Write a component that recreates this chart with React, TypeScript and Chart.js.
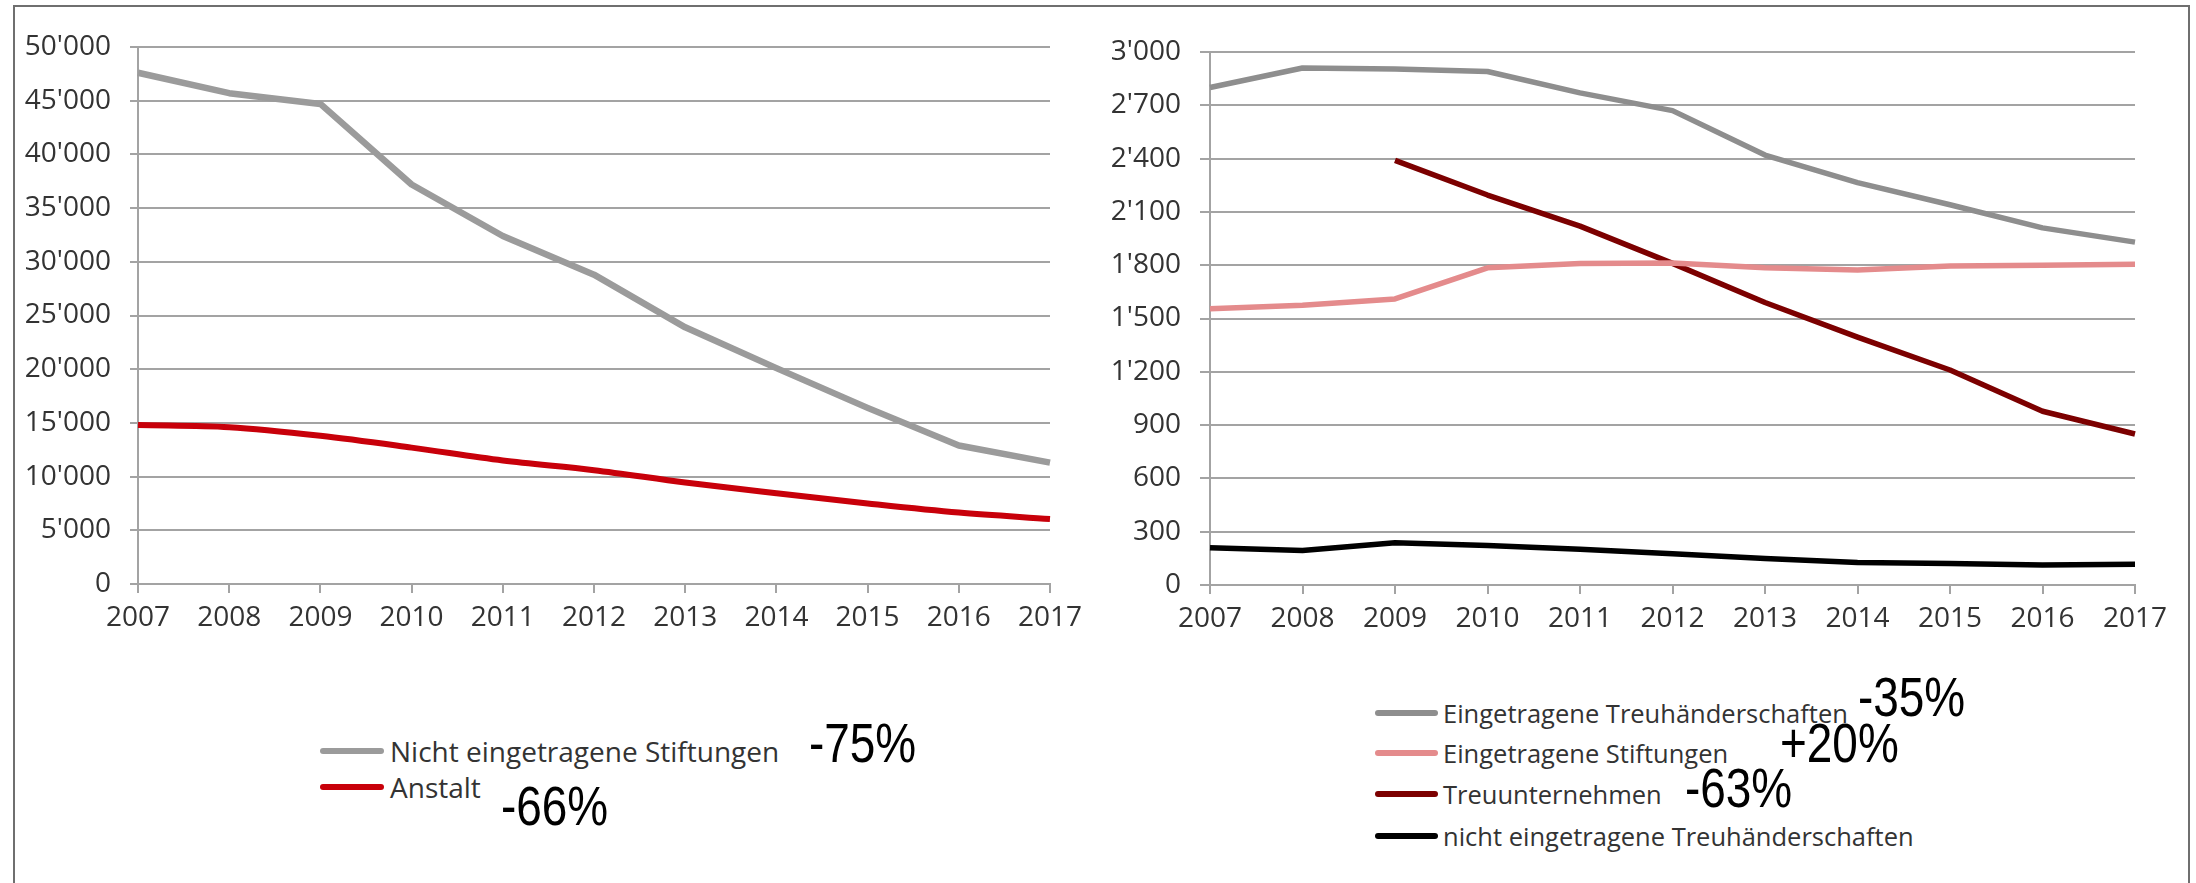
import React, { useEffect, useRef } from "react";
import { Chart, registerables } from "chart.js";

Chart.register(...registerables);

// ---------- data ----------
const years = ["2007", "2008", "2009", "2010", "2011", "2012", "2013", "2014", "2015", "2016", "2017"];

const nichtEingetrageneStiftungen = [47600, 45700, 44700, 37200, 32400, 28800, 23900, 20100, 16400, 12900, 11300];
const anstalt = [14800, 14600, 13800, 12700, 11500, 10600, 9450, 8450, 7500, 6650, 6050];

const eingetrageneTreuhaenderschaften = [2800, 2910, 2905, 2890, 2770, 2670, 2420, 2265, 2140, 2010, 1930];
const eingetrageneStiftungen = [1555, 1575, 1610, 1785, 1810, 1812, 1785, 1773, 1795, 1800, 1805];
const treuunternehmen = [null, null, 2390, 2195, 2020, 1810, 1590, 1395, 1210, 978, 850];
const nichtEingetrageneTreuhaenderschaften = [210, 194, 238, 222, 201, 176, 149, 126, 121, 112, 117];

const leftLabels = ["Nicht eingetragene Stiftungen", "Anstalt"];
const leftChanges = ["-75%", "-66%"];
const rightLabels = [
  "Eingetragene Treuhänderschaften",
  "Eingetragene Stiftungen",
  "Treuunternehmen",
  "nicht eingetragene Treuhänderschaften",
];
const rightChanges = ["-35%", "+20%", "-63%"];

const leftYMax = 50000;
const leftYStep = 5000;
const rightYMax = 3000;
const rightYStep = 300;

// ---------- styles ----------
const GRID = "#a3a3a3";
const TEXT = "#333333";
const FONT = "'Open Sans', 'Noto Sans', sans-serif";
const PCT_FONT = "'Liberation Sans', Arial, sans-serif";

const C_GRAY_L = "#9b9b9b";
const C_RED = "#c8000a";
const C_GRAY_R = "#8e8e8e";
const C_PINK = "#e48b8c";
const C_DARKRED = "#7c0000";
const C_BLACK = "#000000";

function fmt(v: number): string {
  if (v >= 1000) {
    const th = Math.floor(v / 1000);
    const rest = Math.round(v % 1000);
    return th + "'" + String(rest).padStart(3, "0");
  }
  return String(v);
}

type LineChartProps = {
  datasets: any[];
  yMax: number;
  yStep: number;
  width: number;
  height: number;
  axisLeft: number;
  areaRight: number;
  areaTop: number;
  areaBottom: number;
  tickLen: number;
  style: React.CSSProperties;
};

function LineChart(p: LineChartProps) {
  const ref = useRef<HTMLCanvasElement | null>(null);
  useEffect(() => {
    if (!ref.current) return;
    const chart = new Chart(ref.current, {
      type: "line",
      data: { labels: years, datasets: p.datasets },
      options: {
        responsive: false,
        animation: false,
        devicePixelRatio: 1,
        layout: {
          padding: { left: 0, right: p.width - p.areaRight, top: p.areaTop, bottom: 0 },
        },
        plugins: { legend: { display: false }, tooltip: { enabled: false } },
        elements: { point: { radius: 0 } },
        scales: {
          x: {
            type: "category",
            offset: false,
            grid: {
              display: true,
              drawOnChartArea: false,
              drawTicks: true,
              tickLength: 9,
              color: GRID,
              lineWidth: 2,
            },
            border: { display: true, color: GRID, width: 2 },
            ticks: {
              color: TEXT,
              font: { family: FONT, size: 28 },
              padding: 8,
              maxRotation: 0,
              autoSkip: false,
            },
            afterFit: (s: any) => {
              s.height = p.height - p.areaBottom;
            },
          },
          y: {
            min: 0,
            max: p.yMax,
            grid: {
              display: true,
              drawOnChartArea: true,
              drawTicks: true,
              tickLength: p.tickLen,
              color: GRID,
              lineWidth: 2,
            },
            border: { display: true, color: GRID, width: 2 },
            ticks: {
              stepSize: p.yStep,
              color: TEXT,
              font: { family: FONT, size: 28 },
              padding: 19,
              callback: (v: any) => fmt(Number(v)),
            },
            afterFit: (s: any) => {
              s.width = p.axisLeft;
            },
          },
        },
      },
    });
    return () => chart.destroy();
  }, []);
  return <canvas ref={ref} width={p.width} height={p.height} style={{ position: "absolute", display: "block", ...p.style }} />;
}

function Swatch({ color, x, y, w }: { color: string; x: number; y: number; w: number }) {
  return (
    <div
      style={{
        position: "absolute",
        left: x,
        top: y - 3,
        width: w,
        height: 6,
        borderRadius: 3,
        background: color,
      }}
    />
  );
}

function Label({
  text,
  x,
  y,
  size,
  family,
  color,
  sx = 1,
}: {
  text: string;
  x: number;
  y: number;
  size: number;
  family: string;
  color: string;
  sx?: number;
}) {
  const lh = Math.round(size * 1.3);
  return (
    <div
      style={{
        position: "absolute",
        left: x,
        top: y - lh / 2,
        height: lh,
        lineHeight: lh + "px",
        fontFamily: family,
        fontSize: size,
        color,
        whiteSpace: "nowrap",
        transform: sx !== 1 ? `scaleX(${sx})` : undefined,
        transformOrigin: "left center",
      }}
    >
      {text}
    </div>
  );
}

export default function App() {
  useEffect(() => {
    document.body.style.margin = "0";
    document.body.style.overflow = "hidden";
    document.body.style.background = "#ffffff";
  }, []);

  const leftSets = [
    {
      label: leftLabels[0],
      data: nichtEingetrageneStiftungen,
      borderColor: C_GRAY_L,
      backgroundColor: C_GRAY_L,
      borderWidth: 6.5,
      tension: 0,
      borderJoinStyle: "round",
    },
    {
      label: leftLabels[1],
      data: anstalt,
      borderColor: C_RED,
      backgroundColor: C_RED,
      borderWidth: 6,
      cubicInterpolationMode: "monotone",
      borderJoinStyle: "round",
    },
  ];

  const rightSets = [
    {
      label: rightLabels[0],
      data: eingetrageneTreuhaenderschaften,
      borderColor: C_GRAY_R,
      backgroundColor: C_GRAY_R,
      borderWidth: 5.5,
      borderJoinStyle: "round",
    },
    {
      label: rightLabels[1],
      data: eingetrageneStiftungen,
      borderColor: C_PINK,
      backgroundColor: C_PINK,
      borderWidth: 5.5,
      borderJoinStyle: "round",
    },
    {
      label: rightLabels[2],
      data: treuunternehmen,
      borderColor: C_DARKRED,
      backgroundColor: C_DARKRED,
      borderWidth: 5.5,
      spanGaps: false,
      borderJoinStyle: "round",
    },
    {
      label: rightLabels[3],
      data: nichtEingetrageneTreuhaenderschaften,
      borderColor: C_BLACK,
      backgroundColor: C_BLACK,
      borderWidth: 5.5,
      borderJoinStyle: "round",
    },
  ];

  const leftColors = [C_GRAY_L, C_RED];
  const rightColors = [C_GRAY_R, C_PINK, C_DARKRED, C_BLACK];
  const leftRowsY = [751, 787];
  const rightRowsY = [713, 753, 794, 836];
  const leftPct = [
    { x: 809, y: 742 },
    { x: 501, y: 805 },
  ];
  const rightPct = [
    { x: 1858, y: 696 },
    { x: 1780, y: 742 },
    { x: 1685, y: 787 },
  ];

  return (
    <div style={{ position: "relative", width: 2196, height: 883, overflow: "hidden", background: "#fff" }}>
      <div
        style={{
          position: "absolute",
          left: 13,
          top: 5,
          width: 2177,
          height: 900,
          boxSizing: "border-box",
          borderTop: "2px solid #6f6f6f",
          borderLeft: "2px solid #6f6f6f",
          borderRight: "2px solid #6f6f6f",
        }}
      />
      <LineChart
        datasets={leftSets}
        yMax={leftYMax}
        yStep={leftYStep}
        width={1120}
        height={680}
        axisLeft={138}
        areaRight={1050}
        areaTop={47}
        areaBottom={584}
        tickLen={8}
        style={{ left: 0, top: 0 }}
      />
      <LineChart
        datasets={rightSets}
        yMax={rightYMax}
        yStep={rightYStep}
        width={1096}
        height={680}
        axisLeft={110}
        areaRight={1035}
        areaTop={52}
        areaBottom={585}
        tickLen={10}
        style={{ left: 1100, top: 0 }}
      />

      {leftLabels.map((t, i) => (
        <React.Fragment key={"l" + i}>
          <Swatch color={leftColors[i]} x={320} y={leftRowsY[i]} w={64} />
          <Label text={t} x={390} y={leftRowsY[i]} size={28} family={FONT} color={TEXT} />
        </React.Fragment>
      ))}
      {leftChanges.map((t, i) => (
        <Label key={"lp" + i} text={t} x={leftPct[i].x} y={leftPct[i].y} size={56} sx={0.82} family={PCT_FONT} color="#000" />
      ))}

      {rightLabels.map((t, i) => (
        <React.Fragment key={"r" + i}>
          <Swatch color={rightColors[i]} x={1375} y={rightRowsY[i]} w={63} />
          <Label text={t} x={1443} y={rightRowsY[i]} size={25.5} family={FONT} color={TEXT} />
        </React.Fragment>
      ))}
      {rightChanges.map((t, i) => (
        <Label key={"rp" + i} text={t} x={rightPct[i].x} y={rightPct[i].y} size={56} sx={0.82} family={PCT_FONT} color="#000" />
      ))}
    </div>
  );
}
